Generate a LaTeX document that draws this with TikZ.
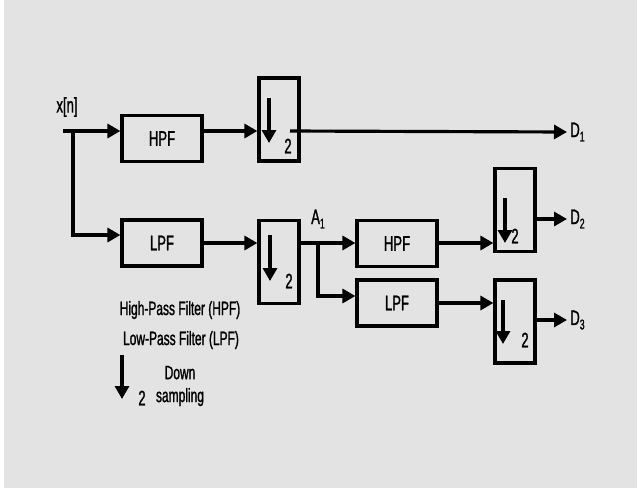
\documentclass[tikz,border=0pt]{standalone}
\usepackage{fontspec}
\setmainfont{Liberation Sans}[FakeStretch=0.62,FakeBold=1.2]
\usetikzlibrary{arrows.meta,positioning}
\newcommand{\sbs}[1]{\raisebox{-2.5pt}{\fontsize{8}{9}\selectfont #1}}

\begin{document}
\begin{tikzpicture}[x=0.02cm, y=-0.02cm, line width=1.8pt,
 every node/.style={font=\fontsize{12}{14}\selectfont},
 legend/.style={font=\fontsize{11}{13}\selectfont},
 filt/.style={draw,minimum width=80*0.02cm,minimum height=46*0.02cm,inner sep=0pt},
 dsbox/.style={draw,minimum width=40*0.02cm,minimum height=83*0.02cm,inner sep=0pt},
 arr/.style={-{Triangle[length=2.6mm,width=2.8mm]}}]
% background
\fill[white] (0,0) rectangle (637,488);
\fill[black!11] (4,0) rectangle (637,488);
% blocks
\node[filt] (hpfA) at (162,138.5) {HPF};
\node[filt] (lpfA) at (162,243) {LPF};
\node[dsbox] (dsA) at (279,119.5) {};
\node[dsbox] (dsB) at (279,262) {};
\node[filt] (hpfB) at (397,243.5) {HPF};
\node[filt] (lpfB) at (397,303) {LPF};
\node[dsbox] (dsC) at (515,210) {};
\node[dsbox] (dsD) at (515,321.5) {};
% labels
\node (xn) at (67,107) {x[n]};
\node (a1) at (318,219) {A\sbs{1}};
\node[anchor=west,inner sep=1pt] (d1) at (567,132) {D\sbs{1}};
\node[anchor=west,inner sep=1pt] (d2) at (567,219) {D\sbs{2}};
\node[anchor=west,inner sep=1pt] (d3) at (567,320) {D\sbs{3}};
% connectors
\coordinate (xin) at (63,131);
\coordinate (brA) at (73,131);
\coordinate (lin) at (73,235);
\coordinate (dsAout) at (290,131);
\coordinate (brB) at (318,243);
\coordinate (lbin) at (318,296);
\draw[arr] (xin) -- (xin -| hpfA.west);
\draw[arr] (brA) -- (lin) -- (lin -| lpfA.west);
\draw[arr] (hpfA.east |- xin) -- (dsA.west |- xin);
\draw[arr] (dsAout) -- (d1.west);
\draw[arr] (lpfA.east |- brB) -- (dsB.west |- brB);
\draw[arr] (dsB.east |- brB) -- (hpfB.west |- brB);
\draw[arr] (brB) -- (lbin) -- (lbin -| lpfB.west);
\draw[arr] (hpfB.east |- brB) -- (dsC.west |- brB);
\draw[arr] (lpfB.east) -- (dsD.west |- lpfB.east);
\draw[arr] (dsC.east |- d2.west) -- (d2.west);
\draw[arr] (dsD.east |- d3.west) -- (d3.west);
% down sampling marks
\draw[arr] (269,98) -- (269,143);
\node (twoA) at (288,146) {2};
\draw[arr] (270,235) -- (270,281);
\node (twoB) at (289,281) {2};
\draw[arr] (505,198) -- (505,243);
\node (twoC) at (515,236) {2};
\draw[arr] (503,300) -- (503,344);
\node (twoD) at (525,340) {2};
% legend
\node[legend] (lhpf) at (180,310) {High-Pass Filter (HPF)};
\node[legend] (llpf) at (181,340) {Low-Pass Filter (LPF)};
\draw[arr] (122,355) -- (122,399);
\node (ltwo) at (142,398) {2};
\node[legend,align=center] (lds) at (180,386) {Down\\sampling};
\end{tikzpicture}
\end{document}
